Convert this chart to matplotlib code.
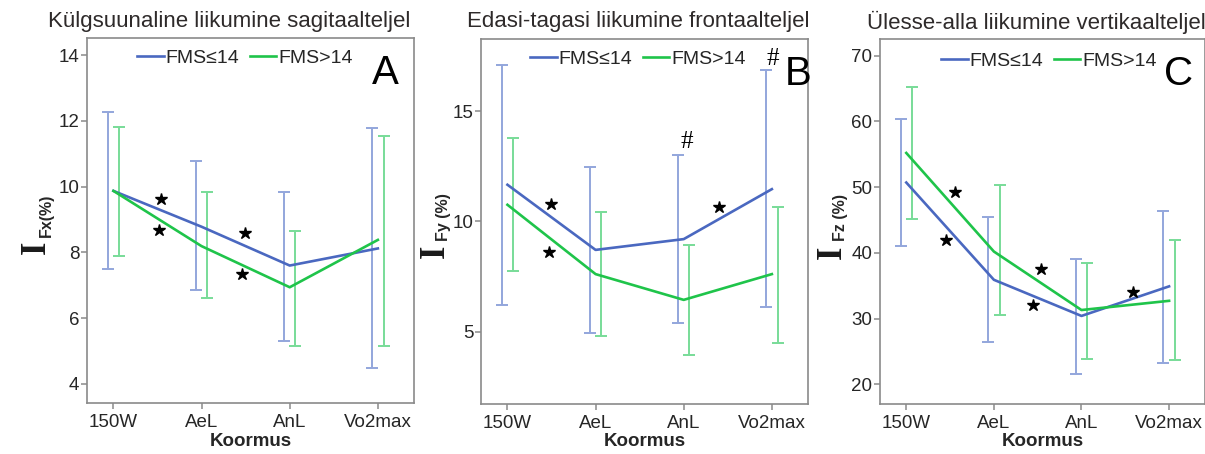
import matplotlib
matplotlib.use('Agg')
import matplotlib.pyplot as plt
import numpy as np

plt.rcParams['font.family'] = ['Liberation Sans', 'DejaVu Sans']

cats = ['150W', 'AeL', 'AnL', 'Vo2max']
legend_labels = ['FMS≤14', 'FMS>14']

# A - Fx
a_blue_mean = [9.87, 8.78, 7.60, 8.12]
a_blue_lo = [7.49, 6.86, 5.32, 4.48]
a_blue_hi = [12.26, 10.79, 9.84, 11.77]
a_green_mean = [9.87, 8.19, 6.94, 8.38]
a_green_lo = [7.89, 6.60, 5.16, 5.16]
a_green_hi = [11.81, 9.84, 8.66, 11.54]
a_star_x = [0.54, 0.52, 1.49, 1.46]
a_star_y = [9.61, 8.68, 8.58, 7.34]

# B - Fy
b_blue_mean = [11.67, 8.71, 9.20, 11.47]
b_blue_lo = [6.20, 4.95, 5.38, 6.11]
b_blue_hi = [17.09, 12.47, 13.00, 16.90]
b_green_mean = [10.76, 7.61, 6.44, 7.61]
b_green_lo = [7.73, 4.80, 3.94, 4.50]
b_green_hi = [13.79, 10.45, 8.94, 10.68]
b_star_x = [0.49, 0.47, 2.40]
b_star_y = [10.8, 8.61, 10.65]
b_hash_x = [2.04, 3.01]
b_hash_y = [13.59, 17.38]

# C - Fz
c_blue_mean = [50.7, 35.9, 30.4, 34.9]
c_blue_lo = [41.0, 26.4, 21.5, 23.2]
c_blue_hi = [60.4, 45.4, 39.0, 46.4]
c_green_mean = [55.2, 40.2, 31.3, 32.7]
c_green_lo = [45.2, 30.6, 23.8, 23.7]
c_green_hi = [65.2, 50.3, 38.5, 42.0]
c_star_x = [0.555, 0.45, 1.54, 1.45, 2.59]
c_star_y = [49.2, 42.0, 37.5, 32.1, 34.1]

BLUE = '#4a68c0'
BLUE_ERR = '#93a6dc'
GREEN = '#1fc44a'
GREEN_ERR = '#78dc98'
SPINE = '#8a8a8a'
TXT = '#262626'

W, H = 1205, 454
fig = plt.figure(figsize=(W / 100, H / 100), dpi=100)


def px(x0, y0, x1, y1):
    return [x0 / W, 1 - y1 / H, (x1 - x0) / W, (y1 - y0) / H]


def panel(rect, bm, blo, bhi, gm, glo, ghi, ylim, yticks, sx, sy, leg_xy, letter, letter_xy):
    ax = fig.add_axes(rect)
    x = np.arange(len(cats))
    off = 0.065
    bm, gm = np.array(bm), np.array(gm)
    ax.errorbar(x - off, bm, yerr=[bm - np.array(blo), np.array(bhi) - bm], fmt='none',
                ecolor=BLUE_ERR, elinewidth=1.4, capsize=4, capthick=1.4, zorder=2)
    ax.errorbar(x + off, gm, yerr=[gm - np.array(glo), np.array(ghi) - gm], fmt='none',
                ecolor=GREEN_ERR, elinewidth=1.4, capsize=4, capthick=1.4, zorder=2)
    ax.plot(x, bm, color=BLUE, lw=1.9, label=legend_labels[0], zorder=3)
    ax.plot(x, gm, color=GREEN, lw=1.9, label=legend_labels[1], zorder=3)
    ax.plot(sx, sy, ls='none', marker='*', ms=9, color='black', zorder=4)
    ax.set_xlim(-0.3, 3.41)
    ax.set_ylim(*ylim)
    ax.set_xticks(x)
    ax.set_xticklabels(cats)
    ax.set_yticks(yticks)
    for s in ax.spines.values():
        s.set_color(SPINE)
        s.set_linewidth(1.2)
    ax.tick_params(axis='x', length=4, width=1.1, color=SPINE, pad=4, labelsize=13.5, labelcolor=TXT)
    ax.tick_params(axis='y', length=4, width=1.1, color=SPINE, pad=1.5, labelsize=13.5, labelcolor=TXT)
    ax.set_xlabel('Koormus', fontsize=13.5, fontweight='bold', color=TXT, labelpad=1)
    ax.legend(loc='center', bbox_to_anchor=leg_xy, ncol=2, frameon=False, fontsize=14,
              handlelength=1.35, handletextpad=0.1, columnspacing=0.55, borderpad=0,
              labelcolor=TXT)
    ax.text(letter_xy[0], letter_xy[1], letter, transform=ax.transAxes, fontsize=29,
            ha='center', va='center', color='black')
    return ax


axA = panel(px(87, 38, 414, 403), a_blue_mean, a_blue_lo, a_blue_hi,
            a_green_mean, a_green_lo, a_green_hi, (3.42, 14.52), [4, 6, 8, 10, 12, 14],
            a_star_x, a_star_y, (0.483, 0.945), 'A', (0.911, 0.905))
axB = panel(px(481, 39, 808, 404), b_blue_mean, b_blue_lo, b_blue_hi,
            b_green_mean, b_green_lo, b_green_hi, (1.71, 18.29), [5, 10, 15],
            b_star_x, b_star_y, (0.48, 0.945), 'B', (0.97, 0.905))
axC = panel(px(880, 39, 1205, 404), c_blue_mean, c_blue_lo, c_blue_hi,
            c_green_mean, c_green_lo, c_green_hi, (17.0, 72.54), [20, 30, 40, 50, 60, 70],
            c_star_x, c_star_y, (0.52, 0.94), 'C', (0.92, 0.905))

for hx, hy in zip(b_hash_x, b_hash_y):
    axB.text(hx, hy, '#', fontsize=18, family='Liberation Serif', ha='center', va='center', color='black')

# titles
titles = ['Külgsuunaline liikumine sagitaalteljel',
          'Edasi-tagasi liikumine frontaalteljel',
          'Ülesse-alla liikumine vertikaalteljel']
for tx, t in zip([48, 467, 867], titles):
    fig.text(tx / W, 1 - 22 / H, t, fontsize=16, ha='left', va='center', color='#2e2a2a')

# y labels: big serif I with subscript
subs = ['Fx(%)', 'Fy (%)', 'Fz (%)']
I_pos = [(36.5, 247.5), (435, 251), (832, 252)]
S_pos = [(46, 215), (443, 217), (840, 217)]
for (ix, iy), (sx_, sy_), s in zip(I_pos, S_pos, subs):
    fig.text(ix / W, 1 - iy / H, 'I', fontsize=25, family='Liberation Serif', fontweight='bold',
             rotation=90, ha='center', va='center', color='#1a1a1a')
    fig.text(sx_ / W, 1 - sy_ / H, s, fontsize=11.5, fontweight='bold',
             rotation=90, ha='center', va='center', color=TXT)

fig.savefig('out.png', dpi=100)
